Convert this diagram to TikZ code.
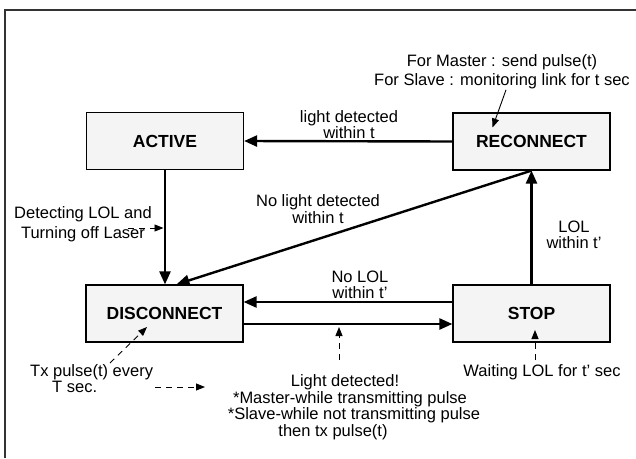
\documentclass[tikz,border=0pt]{standalone}
\usepackage{fontspec}
\setmainfont{Liberation Sans}
\usetikzlibrary{arrows.meta}
\definecolor{boxgray}{HTML}{F4F4F4}
\definecolor{framegray}{HTML}{333333}
\begin{document}
\begin{tikzpicture}[x=1pt,y=-1pt,
  state/.style={draw=black, line width=1.2pt, fill=boxgray,
    minimum width=157pt, minimum height=57pt, inner sep=0pt,
    font=\fontsize{17.5}{18}\selectfont\bfseries},
  lbl/.style={font=\fontsize{16.5}{16}\selectfont, align=center, inner sep=0pt},
  trans/.style={line width=2.4pt, -{Triangle[length=13pt,width=11pt]}},
  pointer/.style={line width=0.9pt, -{Triangle[length=9pt,width=7pt]}},
  notearrow/.style={pointer, dash pattern=on 6pt off 5pt},
]
\useasboundingbox (0,0) rectangle (636,458);

% outer frame (top and left edges)
\draw[line width=1.5pt, framegray] (5,458) -- (5,10) -- (636,10);

% states
\node[state] (active)     at (165,141)    {ACTIVE};
\node[state] (reconnect)  at (531.5,141.5) {RECONNECT};
\node[state] (disconnect) at (164.5,313.5) {DISCONNECT};
\node[state] (stop)       at (531.5,313.5) {STOP};

% transitions
\draw[trans] (reconnect.west) -- (active.east);
\draw[trans] (active.south) -- (active.south |- disconnect.north);
\draw[trans] (reconnect.south) -- ([xshift=12pt]disconnect.north);
\draw[trans] (stop.north) -- (reconnect.south);
\draw[trans] ([yshift=11.5pt]stop.west) -- ([yshift=11.5pt]disconnect.east);
\draw[trans] ([yshift=-10.5pt]disconnect.east) -- ([yshift=-10.5pt]stop.west);

% transition labels
\node[lbl, font=\fontsize{16.5}{15}\selectfont] (lblight) at (349,124.5) {light detected\\within t};
\node[lbl, font=\fontsize{16.5}{14}\selectfont] (lbnolight) at (318,209) {No light detected\\within t};
\node[lbl, font=\fontsize{16.5}{16}\selectfont] (lblol) at (574,235) {LOL\\within t'};
\node[lbl, font=\fontsize{16.5}{16}\selectfont] (lbnolol) at (360,285) {No LOL\\within t'};

% notes
\node[lbl, font=\fontsize{16.5}{19}\selectfont] (topnote) at (502,71.5)
  {For Master : send pulse(t)\\For Slave : monitoring link for t sec};
\draw[pointer] ([xshift=4pt,yshift=-1pt]topnote.south) -- ([xshift=-39pt,yshift=14pt]reconnect.center);

\node[lbl, font=\fontsize{16.5}{20}\selectfont] (lolnote) at (83,224.5)
  {Detecting LOL and\\Turning off Laser};
\coordinate (lolstart) at (128,228);
\coordinate (lolhit) at (163.5,228);
\draw[notearrow] (lolstart) -- (lolhit);

\node[lbl, align=left, font=\fontsize{16.5}{13.5}\selectfont, anchor=west] (txnote) at (30,378.5)
  {Tx pulse(t) every\\\hspace*{22pt}T sec.};
\coordinate (txstart) at (110,363);
\coordinate (txhit) at (147,327);
\draw[notearrow] (txstart) -- (txhit);

\coordinate (txnext) at (155,387);
\coordinate (lightside) at (205,387);
\draw[notearrow] (txnext) -- (lightside);

\node[lbl, font=\fontsize{16.5}{16.5}\selectfont] (lightnote) at (350,407)
  {Light detected!\hspace*{10pt}\\*Master-while transmitting pulse\hspace*{6pt}\\
   \hspace*{8pt}*Slave-while not transmitting pulse\\then tx pulse(t)\hspace*{34pt}};
\coordinate (lightstart) at (339,360);
\coordinate (lighthit) at (339,327);
\draw[notearrow] (lightstart) -- (lighthit);

\node[lbl] (waitnote) at (542,372) {Waiting LOL for t' sec};
\coordinate (waitstart) at (535,360);
\coordinate (waithit) at (535,330);
\draw[notearrow] (waitstart) -- (waithit);
\end{tikzpicture}
\end{document}
